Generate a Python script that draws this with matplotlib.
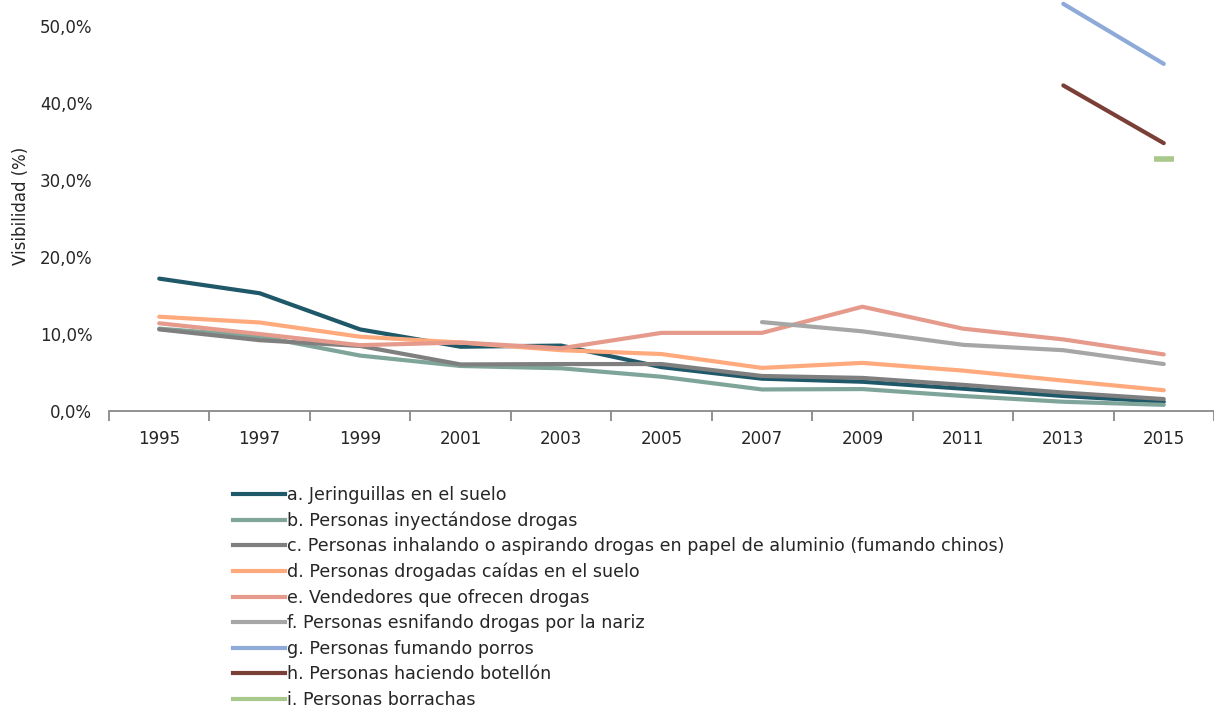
import numpy as np
import matplotlib
matplotlib.use("Agg")
import matplotlib.pyplot as plt
from matplotlib.ticker import FuncFormatter
from matplotlib.lines import Line2D

# Data (visibility, %)
years = ["1995", "1997", "1999", "2001", "2003", "2005", "2007", "2009", "2011", "2013", "2015"]

a_jeringuillas = [17.2, 15.3, 10.6, 8.35, 8.5, 5.7, 4.2, 3.8, 2.9, 1.95, 1.2]
b_inyectandose = [10.7, 9.7, 7.2, 5.85, 5.55, 4.45, 2.8, 2.85, 1.95, 1.2, 0.8]
c_inhalando = [10.6, 9.2, 8.45, 6.05, 6.1, 6.1, 4.55, 4.3, 3.4, 2.4, 1.55]
d_caidas = [12.25, 11.5, 9.65, 8.9, 7.9, 7.4, 5.6, 6.25, 5.25, 3.95, 2.7]
e_vendedores = [11.4, 10.0, 8.55, 8.9, 8.15, 10.15, 10.15, 13.55, 10.7, 9.3, 7.35]
f_esnifando = [None] * 6 + [11.55, 10.35, 8.6, 7.9, 6.1]
g_porros = [None] * 9 + [52.9, 45.1]
h_botellon = [None] * 9 + [42.3, 34.8]
i_borrachas = [None] * 10 + [32.7]

labels = [
    "a. Jeringuillas en el suelo",
    "b. Personas inyectándose drogas",
    "c. Personas inhalando o aspirando drogas en papel de aluminio (fumando chinos)",
    "d. Personas drogadas caídas en el suelo",
    "e. Vendedores que ofrecen drogas",
    "f. Personas esnifando drogas por la nariz",
    "g. Personas fumando porros",
    "h. Personas haciendo botellón",
    "i. Personas borrachas",
]
colors = ["#1f5868", "#7fa59a", "#7f7f7f", "#ffaa7d", "#e59a8b",
          "#a6a6a6", "#8eaad8", "#7a3f36", "#a9c98c"]

plt.rcParams['font.family'] = ['DejaVu Sans']

fig = plt.figure(figsize=(12.14, 7.12), dpi=100)
ax = fig.add_axes([109 / 1214, 301 / 712, 1 - 109 / 1214, 411 / 712])

x = np.arange(len(years))
series = [a_jeringuillas, b_inyectandose, c_inhalando, d_caidas, e_vendedores,
          f_esnifando, g_porros, h_botellon, i_borrachas]
for vals, lab, col in zip(series, labels, colors):
    y = np.array([np.nan if v is None else v / 100 for v in vals])
    n_valid = np.count_nonzero(~np.isnan(y))
    if n_valid == 1:
        # single point -> short dash, like the original
        ax.plot(x, y, color=col, lw=3, marker="_", markersize=15,
                markeredgewidth=4, label=lab, clip_on=False)
    else:
        ax.plot(x, y, color=col, lw=3, solid_capstyle="round", label=lab,
                clip_on=False)

ax.set_xlim(-0.5, 10.42)
ax.set_ylim(0, 0.534)
ax.set_yticks([0, 0.1, 0.2, 0.3, 0.4, 0.5])
ax.yaxis.set_major_formatter(FuncFormatter(lambda v, p: f"{v * 100:.1f}%".replace(".", ",")))
ax.set_xticks(x)
ax.set_xticklabels(years)
ax.set_xticks(np.arange(-0.5, 11, 1), minor=True)

for s in ["top", "right", "left"]:
    ax.spines[s].set_visible(False)
ax.spines["bottom"].set_color("#898989")
ax.spines["bottom"].set_linewidth(1.3)
ax.tick_params(axis="x", which="major", length=0, pad=14, labelsize=12, labelcolor="#262626")
ax.tick_params(axis="x", which="minor", length=7, width=1.3, color="#898989")
ax.tick_params(axis="y", length=0, pad=12, labelsize=12, labelcolor="#262626")
ax.set_ylabel("Visibilidad (%)", fontsize=12, color="#262626", labelpad=7)

leg_handles = [Line2D([], [], color=c, lw=3) for c in colors]
fig.legend(leg_handles, labels, loc="upper left", bbox_to_anchor=(224 / 1214, 1 - 477 / 712),
           frameon=False, fontsize=12.6, handlelength=3.0, handletextpad=0.12,
           labelspacing=0.43, borderpad=0, labelcolor="#262626")

fig.savefig("out.png", dpi=100)
